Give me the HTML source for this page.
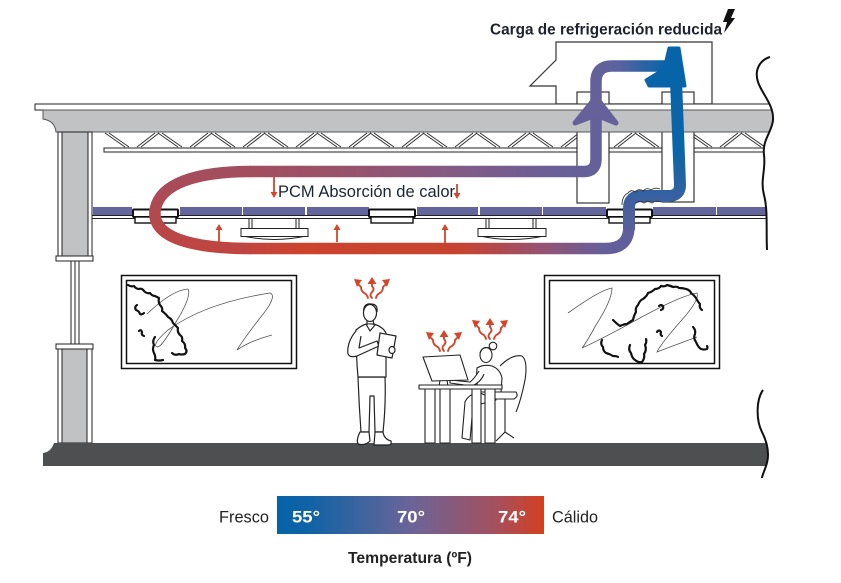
<!DOCTYPE html>
<html><head><meta charset="utf-8">
<style>
html,body{margin:0;padding:0;background:#fff;}
svg{display:block;}
text{font-family:"Liberation Sans",Arial,sans-serif;}
</style></head>
<body>
<svg width="841" height="583" viewBox="0 0 841 583" xmlns="http://www.w3.org/2000/svg">
<defs>
<linearGradient id="gBottom" gradientUnits="userSpaceOnUse" x1="630" y1="0" x2="240" y2="0">
<stop offset="0" stop-color="#5e5f9c"/><stop offset="0.077" stop-color="#675e98"/>
<stop offset="0.205" stop-color="#8f5578"/><stop offset="0.333" stop-color="#b0494f"/>
<stop offset="0.436" stop-color="#c6442f"/><stop offset="0.846" stop-color="#cc432e"/>
<stop offset="1" stop-color="#c04540"/></linearGradient>
<linearGradient id="gLeft" gradientUnits="userSpaceOnUse" x1="0" y1="248" x2="0" y2="171">
<stop offset="0" stop-color="#bf4542"/><stop offset="1" stop-color="#a34e5e"/></linearGradient>
<linearGradient id="gTop" gradientUnits="userSpaceOnUse" x1="250" y1="0" x2="670" y2="0">
<stop offset="0" stop-color="#a24e5e"/><stop offset="0.238" stop-color="#98536c"/>
<stop offset="0.476" stop-color="#845a84"/><stop offset="0.714" stop-color="#6b5f96"/>
<stop offset="0.824" stop-color="#64619a"/><stop offset="0.88" stop-color="#5a62a0"/>
<stop offset="0.94" stop-color="#2864a5"/><stop offset="0.99" stop-color="#0864a8"/></linearGradient>
<linearGradient id="gBlue" gradientUnits="userSpaceOnUse" x1="0" y1="80" x2="0" y2="235">
<stop offset="0" stop-color="#0864a8"/><stop offset="0.45" stop-color="#0a64a8"/>
<stop offset="0.71" stop-color="#2e62a2"/><stop offset="0.84" stop-color="#4a609e"/>
<stop offset="1" stop-color="#5a5f9c"/></linearGradient>
<linearGradient id="gLegend" gradientUnits="userSpaceOnUse" x1="277" y1="0" x2="544" y2="0">
<stop offset="0" stop-color="#0663a8"/><stop offset="0.12" stop-color="#0f63a6"/>
<stop offset="0.5" stop-color="#6a6498"/><stop offset="0.82" stop-color="#a4505e"/>
<stop offset="1" stop-color="#d4401f"/></linearGradient>
</defs>

<!-- Unit on roof -->
<polygon points="556,104 556,86 530,86 556,60 556,42 712,42 712,104" fill="#fff" stroke="#333" stroke-width="1.2"/>

<!-- Truss -->
<g stroke="#333" stroke-width="1" fill="none">
<path d="M105 133 L125 147 M109 133 L129 147 M137 147 L155 133 M141 147 L159 133
M158 133 L178 147 M162 133 L182 147 M190 147 L208 133 M194 147 L212 133
M211 133 L231 147 M215 133 L235 147 M243 147 L261 133 M247 147 L265 133
M264 133 L284 147 M268 133 L288 147 M296 147 L314 133 M300 147 L318 133
M317 133 L337 147 M321 133 L341 147 M349 147 L367 133 M353 147 L371 133
M370 133 L390 147 M374 133 L394 147 M402 147 L420 133 M406 147 L424 133
M423 133 L443 147 M427 133 L447 147 M455 147 L473 133 M459 147 L477 133
M476 133 L496 147 M480 133 L500 147 M508 147 L526 133 M512 147 L530 133
M529 133 L549 147 M533 133 L553 147 M561 147 L579 133 M565 147 L583 133
M582 133 L602 147 M586 133 L606 147 M614 147 L632 133 M618 147 L636 133
M635 133 L655 147 M639 133 L659 147 M667 147 L685 133 M671 147 L689 133
M688 133 L708 147 M692 133 L712 147 M720 147 L738 133 M724 147 L742 133
M741 133 L761 147 M745 133 L765 147 M773 147 L791 133"/>
</g>
<rect x="104" y="148" width="672" height="4" fill="#fff" stroke="#222" stroke-width="1"/>

<!-- Ducts -->
<rect x="577" y="92" width="32" height="111" fill="#fff" stroke="#222" stroke-width="1.1"/>
<rect x="662" y="92" width="32" height="110" fill="#fff" stroke="#222" stroke-width="1.1"/>

<!-- Slab -->
<rect x="35" y="104" width="742" height="6" fill="#fff" stroke="#222" stroke-width="1"/>
<path d="M43 110 L777 110 L777 132 L56 132 Q55 121 43 119 Z" fill="#c1c2c4" stroke="#555" stroke-width="1"/>

<!-- Column -->
<rect x="58" y="132" width="34" height="124" fill="#fff" stroke="#222" stroke-width="1"/>
<rect x="62" y="132" width="26" height="124" fill="#c1c2c4" stroke="#222" stroke-width="1"/>
<rect x="56" y="256" width="37" height="5" fill="#fff" stroke="#222" stroke-width="1"/>
<rect x="71" y="261" width="8" height="83" fill="#fff" stroke="#222" stroke-width="1"/>
<line x1="75" y1="261" x2="75" y2="344" stroke="#222" stroke-width="1"/>
<rect x="56" y="344" width="37" height="5" fill="#fff" stroke="#222" stroke-width="1"/>
<rect x="58" y="349" width="34" height="94" fill="#fff" stroke="#222" stroke-width="1"/>
<rect x="62" y="349" width="25" height="94" fill="#c1c2c4" stroke="#222" stroke-width="1"/>

<!-- Floor -->
<path d="M43 466 L43 453 Q51 452 54 443 L775 443 L775 466 Z" fill="#4d4f51"/>

<!-- Ceiling tiles -->
<g fill="#63659c">
<rect x="93" y="207" width="39" height="8"/>
<rect x="180" y="207" width="62" height="8"/>
<rect x="243" y="207" width="62" height="8"/>
<rect x="307" y="207" width="62" height="8"/>
<rect x="417" y="207" width="61" height="8"/>
<rect x="480" y="207" width="62" height="8"/>
<rect x="543" y="207" width="63" height="8"/>
<rect x="653" y="207" width="63" height="8"/>
<rect x="717" y="207" width="58" height="8"/>
</g>
<rect x="92" y="215.5" width="684" height="3" fill="#fff" stroke="#222" stroke-width="1"/>

<!-- Linear fixtures -->
<g fill="#fff" stroke="#111">
<rect x="133" y="209.5" width="45" height="7.5" stroke-width="2" rx="1"/>
<rect x="135" y="217" width="41" height="6" stroke-width="1.4"/>
<rect x="369" y="209.5" width="46" height="7.5" stroke-width="2" rx="1"/>
<rect x="371" y="217" width="42" height="6" stroke-width="1.4"/>
<rect x="607" y="209.5" width="45" height="7.5" stroke-width="2" rx="1"/>
<rect x="609" y="217" width="41" height="6" stroke-width="1.4"/>
</g>

<!-- Diffusers -->
<g fill="#fff" stroke="#222" stroke-width="1">
<rect x="249" y="218.5" width="3" height="10"/><rect x="296" y="218.5" width="3" height="10"/>
<path d="M243 236 Q274 243 306 236"/>
<rect x="241" y="228.5" width="67" height="8"/>
<rect x="486" y="218.5" width="3" height="10"/><rect x="533" y="218.5" width="3" height="10"/>
<path d="M480 236 Q512 243 544 236"/>
<rect x="478" y="228.5" width="68" height="8"/>
</g>

<!-- Red up/down arrows -->
<g stroke="#d4452b" stroke-width="1.8" fill="#d4452b">
<line x1="219" y1="242" x2="219" y2="229"/><polygon points="215.5,230 222.5,230 219,224" stroke="none"/>
<line x1="337" y1="242" x2="337" y2="229"/><polygon points="333.5,230 340.5,230 337,224" stroke="none"/>
<line x1="445" y1="244" x2="445" y2="229"/><polygon points="441.5,230 448.5,230 445,224" stroke="none"/>
<line x1="274" y1="177" x2="274" y2="193"/><polygon points="270.5,192 277.5,192 274,198" stroke="none"/>
<line x1="457" y1="184" x2="457" y2="194"/><polygon points="453.5,193 460.5,193 457,199" stroke="none"/>
</g>

<!-- PCM text -->
<text x="278" y="197" font-size="16.5" fill="#1a2438" textLength="177" lengthAdjust="spacingAndGlyphs">PCM Absorción de calor</text>

<!-- Flow tubes -->
<g fill="none" stroke-width="11.5">
<path d="M629 226 Q629 248.5 606 248.5 L250 248.5" stroke="url(#gBottom)" stroke-linecap="butt"/>
<path d="M251 248.5 C178 248.5 150 232 155.5 208 C161 184 195 171.5 251 171.5" stroke="url(#gLeft)"/>
<path d="M250 171.5 L584 171.5 Q596 171.5 596 159 L596 82 Q596 66 612 66 L668 66" stroke="url(#gTop)"/>
<path d="M676 80 L680 185 Q680 196 668 196 L642 196 Q629 196 629 208 L629 230" stroke="url(#gBlue)" stroke-width="12"/>
</g>
<!-- purple arrowhead -->
<polygon points="596,97 616,123 596,115 575,123" fill="#66619a" stroke="#66619a" stroke-width="5" stroke-linejoin="round"/>
<!-- blue arrowhead -->
<polygon points="669,48 679,48 685,86 670,86 649,86 646,80 664,69" fill="#0864a8" stroke="#0864a8" stroke-width="3" stroke-linejoin="round"/>
<!-- wavy outline at ceiling pass -->
<path d="M622 205 Q622 196 628 193 Q631 189 635 192 Q639 188 643 191 Q647 187 651 190 Q655 187 660 189" fill="none" stroke="#333" stroke-width="0.9"/>
<path d="M636 203 Q640 200 644 203 Q648 200 652 203 Q656 200 661 202" fill="none" stroke="#333" stroke-width="0.9"/>

<!-- Right break masks -->
<path d="M770 57 C760 60 754 70 758 82 C762 94 774 105 773 120 C772 132 762 140 764 155 C766 170 760 180 764 195 C768 210 766 230 767 250 L841 250 L841 57 Z" fill="#fff"/>
<path d="M770 57 C760 60 754 70 758 82 C762 94 774 105 773 120 C772 132 762 140 764 155 C766 170 760 180 764 195 C768 210 766 230 767 250" fill="none" stroke="#111" stroke-width="2"/>
<path d="M763 390 C756 400 756 420 762 432 C768 444 770 455 766 466 C764 472 762 476 762 478 L841 478 L841 390 Z" fill="#fff"/>
<path d="M763 390 C756 400 756 420 762 432 C768 444 770 455 766 466 C764 472 762 476 762 478" fill="none" stroke="#111" stroke-width="2"/>

<!-- Top label + bolt -->
<text x="490" y="34.5" font-size="15.5" font-weight="bold" fill="#1e2230" textLength="232" lengthAdjust="spacingAndGlyphs">Carga de refrigeración reducida</text>
<polygon points="728,9 735,9 731,18 735,18 724,33 727,22 723,22" fill="#111"/>

<!-- Paintings -->
<g fill="none" stroke="#111" stroke-width="1.5">
<rect x="121.5" y="275.5" width="175" height="93"/>
<rect x="126.5" y="280.5" width="165" height="83"/>
<rect x="544.5" y="275.5" width="175" height="93"/>
<rect x="549.5" y="280.5" width="165" height="83"/>
</g>
<g fill="none" stroke="#555" stroke-width="0.8">
<path d="M147 314 Q172 290 188 289 Q192 296 176 322 Q163 345 158 347 Q150 346 168 330 Q205 303 270 293 Q278 296 260 318 Q243 340 237 350 Q250 341 272 335"/>
<path d="M568 313 Q600 290 612 288 Q612 300 596 325 Q585 345 582 348 Q600 340 640 318 Q680 296 697 293 Q700 300 680 322 Q660 345 657 352 Q675 345 697 337"/>
</g>
<g fill="none" stroke="#111" stroke-width="2.2" stroke-linejoin="round" stroke-linecap="round">
<path d="M128 285 q3 2 6 1 q2 3 5 3 q3 -1 5 2 q3 3 6 2 q2 3 5 3 l4 2 q-1 4 1 7 q3 3 2 6 q4 3 6 6 q4 2 5 6 q3 3 5 5 q-1 4 2 7 q3 2 2 6 q4 3 3 7 q3 3 0 6 q-4 1 -6 0 q-4 2 -7 -1"/>
<path d="M155 337 q-3 4 -1 8 q-2 4 0 8 q2 4 1 7 q4 1 8 0"/>
<path d="M137 305 q-3 2 -1 5 q3 1 4 4 q2 1 4 -1"/>
<path d="M139 331 q2 -2 3 1 q-1 3 2 4"/>
<path d="M613 320 q4 4 7 6 q4 -2 7 -2 q4 -3 6 -4 q1 -5 3 -8 q-1 -4 2 -7 q2 -5 5 -6 q4 -3 5 -6 q4 -1 7 -4 q4 0 6 -3 q4 1 6 -1 q4 1 6 2 q4 -1 6 1 q4 0 7 1 q4 1 5 4 q3 2 5 5 q2 4 4 6 q-1 4 2 6"/>
<path d="M602 340 q-2 4 1 7 q0 4 3 6 q4 1 7 3 q4 0 5 1"/>
<path d="M630 345 q-2 5 1 8 q1 5 4 7 q4 3 7 2 q3 -4 2 -8 q3 -4 1 -9 q2 -3 1 -6"/>
<path d="M693 327 q3 3 2 7 q-2 4 1 8 q2 5 5 7 q3 1 6 0 q1 -2 0 -3"/>
<path d="M659 306 q2 -2 4 0 q1 3 -2 4"/>
<path d="M657 332 q2 -3 4 0 q-1 3 1 4"/>
</g>

<!-- Man -->
<g fill="#fff" stroke="#222" stroke-width="1.2" stroke-linejoin="round">
<path d="M358 377 Q359 405 361 432 L369 432 L370 396 L374 396 L375 432 L383 432 Q386 405 385 377 Z"/>
<path d="M360 432 L369 432 L370 441 Q365 446 358 444 Q356 440 360 432 Z"/>
<path d="M375 432 L383 432 Q384 439 391 441 Q392 445 388 445 L374 445 Z"/>
<path d="M356 330 Q363 324 368 324 L374 324 Q383 327 386 333 L386 377 L358 377 Q356 355 356 330 Z"/>
<path d="M366 324 L370 331 L375 325"/>
<path d="M356 331 C349 339 347 348 348 354 Q350 358 357 356 L379 346 L377 341 L359 348 L361 336"/>
<polygon points="380,333 396,336 392,358 377,355"/>
<ellipse cx="392" cy="350" rx="3" ry="3.5"/>
<path d="M367 320 L367 325 M373 320 L374 325" fill="none"/>
<ellipse cx="370" cy="313" rx="6.5" ry="8.5"/>
<path d="M363.5 311 Q364 303 371 304 Q378 304 377 312" fill="none"/>
</g>

<!-- Woman, chair, desk, monitor -->
<g fill="#fff" stroke="#222" stroke-width="1.1" stroke-linejoin="round">
<path d="M500 366 Q512 354 522 356 Q528 361 525 380 Q521 400 516 412" fill="none"/>
<path d="M505 398 L505 432 M496 441 L505 432 L514 438" fill="none"/>
<path d="M478 392 Q468 395 465 402 L462 438 L470 440 L473 406 L496 400 Z"/>
<path d="M477 368 Q484 364 492 366 Q500 369 502 378 L501 392 L478 392 Q476 378 477 368 Z"/>
<path d="M493 392 L516 392 Q519 396 514 399 L493 399 Z"/>
<path d="M479 371 Q474 379 470 382 L450 380 L450 383 L472 386 Q481 382 484 374" />
<ellipse cx="486" cy="355" rx="6" ry="7.5"/>
<circle cx="493" cy="346" r="3.8"/>
<path d="M480 353 Q482 346 490 348" fill="none"/>
<polygon points="440,380 447,380 448,387 439,387"/>
<polygon points="423,357 460,355 468,380 432,381"/>
<rect x="419" y="385" width="83" height="4"/>
<rect x="425" y="389" width="10" height="54"/>
<rect x="440" y="389" width="10" height="54"/>
<rect x="472" y="389" width="9" height="54"/>
<rect x="485" y="389" width="10" height="54"/>
</g>

<!-- Heat squiggles -->
<g fill="none" stroke="#d4452b" stroke-width="1.9" stroke-linecap="round">
<g transform="translate(372,278)">
<path d="M0 20 q-3 -3 0 -6 q3 -3 0 -6 l0 -3"/><path d="M-4 20 q-1 -4 -4 -5 q-3 -2 -3 -6 l-3 -3"/><path d="M4 20 q1 -4 4 -5 q3 -2 3 -6 l3 -3"/>
<polygon points="0,-1 -4.5,6 4.5,6" fill="#d4452b" stroke="none"/><polygon points="-18,1 -10,2 -15,9" fill="#d4452b" stroke="none"/><polygon points="18,1 10,2 15,9" fill="#d4452b" stroke="none"/>
</g>
<g transform="translate(444,331)">
<path d="M0 20 q-3 -3 0 -6 q3 -3 0 -6 l0 -3"/><path d="M-4 20 q-1 -4 -4 -5 q-3 -2 -3 -6 l-3 -3"/><path d="M4 20 q1 -4 4 -5 q3 -2 3 -6 l3 -3"/>
<polygon points="0,-1 -4.5,6 4.5,6" fill="#d4452b" stroke="none"/><polygon points="-18,1 -10,2 -15,9" fill="#d4452b" stroke="none"/><polygon points="18,1 10,2 15,9" fill="#d4452b" stroke="none"/>
</g>
<g transform="translate(490,319)">
<path d="M0 20 q-3 -3 0 -6 q3 -3 0 -6 l0 -3"/><path d="M-4 20 q-1 -4 -4 -5 q-3 -2 -3 -6 l-3 -3"/><path d="M4 20 q1 -4 4 -5 q3 -2 3 -6 l3 -3"/>
<polygon points="0,-1 -4.5,6 4.5,6" fill="#d4452b" stroke="none"/><polygon points="-18,1 -10,2 -15,9" fill="#d4452b" stroke="none"/><polygon points="18,1 10,2 15,9" fill="#d4452b" stroke="none"/>
</g>
</g>

<!-- Legend -->
<rect x="277" y="496" width="267" height="38" fill="url(#gLegend)"/>
<text x="219" y="522.5" font-size="17" fill="#222" textLength="50" lengthAdjust="spacingAndGlyphs">Fresco</text>
<text x="552" y="522.5" font-size="17" fill="#222" textLength="46" lengthAdjust="spacingAndGlyphs">Cálido</text>
<text x="292" y="522.5" font-size="17" font-weight="bold" fill="#fff" textLength="28" lengthAdjust="spacingAndGlyphs">55°</text>
<text x="397" y="522.5" font-size="17" font-weight="bold" fill="#fff" textLength="28" lengthAdjust="spacingAndGlyphs">70°</text>
<text x="498" y="522.5" font-size="17" font-weight="bold" fill="#fff" textLength="28" lengthAdjust="spacingAndGlyphs">74°</text>
<text x="348" y="563" font-size="16" font-weight="bold" fill="#222" textLength="124" lengthAdjust="spacingAndGlyphs">Temperatura (ºF)</text>
</svg>
</body></html>
